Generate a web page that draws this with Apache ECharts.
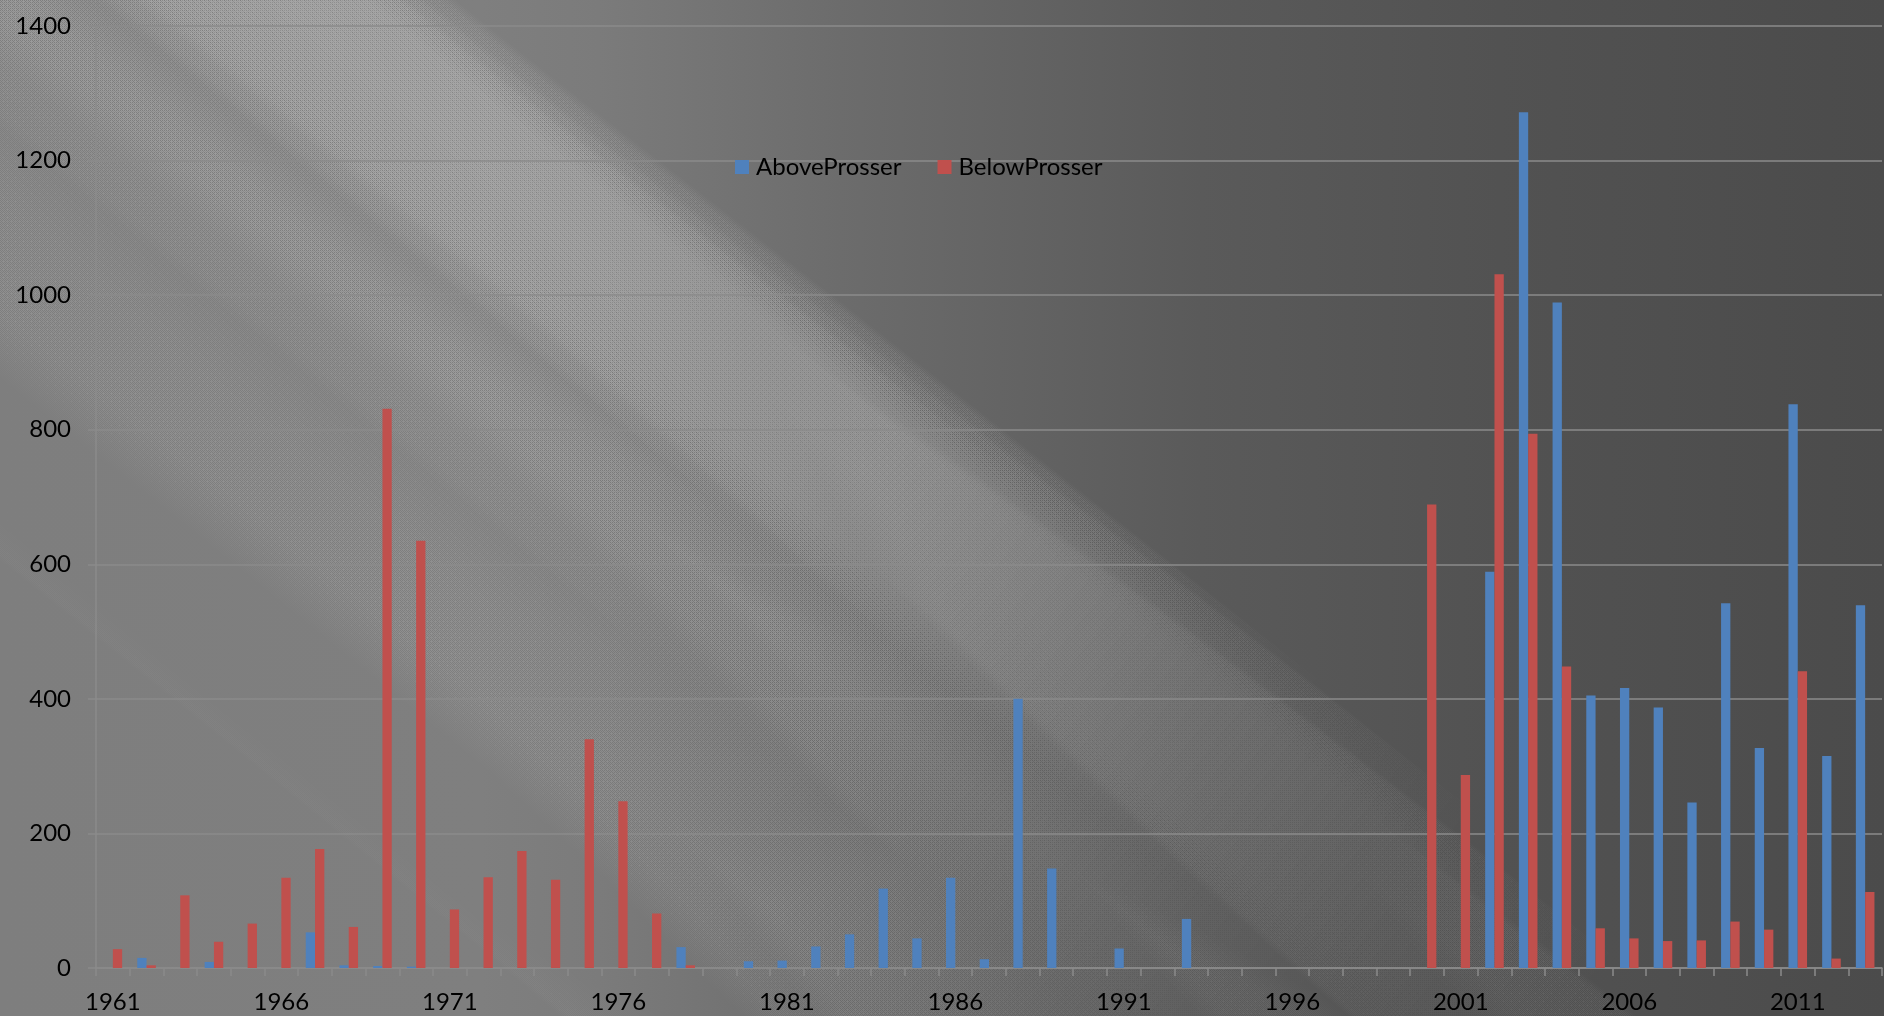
<!DOCTYPE html>
<html>
<head>
<meta charset="utf-8">
<script src="https://cdn.jsdelivr.net/npm/echarts@6/dist/echarts.min.js"></script>
<style>
html,body{margin:0;padding:0;width:100%;height:100%;overflow:hidden;background:#6a6a6a;}
#chart{width:1884px;height:1016px;}
</style>
</head>
<body>
<div id="chart"></div>
<script>
// ---------- data ----------
const years = ['1961','1962','1963','1964','1965','1966','1967','1968','1969','1970',
  '1971','1972','1973','1974','1975','1976','1977','1978','1979','1980',
  '1981','1982','1983','1984','1985','1986','1987','1988','1989','1990',
  '1991','1992','1993','1994','1995','1996','1997','1998','1999','2000',
  '2001','2002','2003','2004','2005','2006','2007','2008','2009','2010',
  '2011','2012','2013'];
const aboveProsser = [0,15,0,9,0,0,53,4,3,2,
  0,0,0,0,0,0,0,31,0,10,
  11,32,50,118,44,134,13,400,148,0,
  29,0,73,0,0,0,0,0,0,0,
  0,589,1272,989,405,416,387,246,542,327,
  838,315,539];
const belowProsser = [28,4,108,39,66,134,177,61,831,635,
  87,135,174,131,340,248,81,4,0,0,
  0,0,0,0,0,0,0,0,0,0,
  0,0,0,0,0,0,0,0,0,689,
  287,1031,794,448,59,44,40,41,69,57,
  441,14,113];
const seriesNames = ['AboveProsser','BelowProsser'];
const yMin = 0, yMax = 1400, yStep = 200;

// ---------- decorative background (diagonal light streaks) ----------
function P(t, s){ return [0.63*t + 0.777*s, -0.777*t + 0.63*s]; }
const profile = [[-950,0],[-650,0.02],[-520,0.08],[-430,0.18],[-330,0.16],[-220,0.21],[-100,0.19],
  [0,0.25],[60,0.22],[110,0.3],[180,0.33],[230,0.33],[270,0.22],[320,0.09],[380,0.03],[440,0]];
const fade = [[-400,1],[400,1],[700,0.95],[900,0.88],[1100,0.75],[1300,0.55],[1450,0.4],[1650,0.22],[1850,0.1],[2100,0],[2400,0]];
function interp(tab, v){
  for (let i=0;i<tab.length-1;i++){
    if (v>=tab[i][0] && v<=tab[i+1][0]){
      const f=(v-tab[i][0])/(tab[i+1][0]-tab[i][0]);
      return tab[i][1]+f*(tab[i+1][1]-tab[i][1]);
    }
  }
  return v<tab[0][0]?tab[0][1]:tab[tab.length-1][1];
}
const t0=-950, t1=440;
const gs = P(t0,0), ge = P(t1,0);
const stops = profile.map(p=>({offset:(p[0]-t0)/(t1-t0),
  color:'rgba(255,255,255,'+(-Math.log(1-p[1])).toFixed(4)+')'}));
const graphics = [];
const step = 20;
for (let sk=-50+step; sk<=2200; sk+=step){
  const op = interp(fade, sk-step) - interp(fade, sk);
  if (op<=0.0001) continue;
  graphics.push({
    type:'polygon', silent:true, z:-1,
    shape:{points:[P(t0,-60),P(t1,-60),P(t1,sk),P(t0,sk)]},
    style:{fill:new echarts.graphic.LinearGradient(gs[0],gs[1],ge[0],ge[1],stops,true), opacity:op}
  });
}

const font = 'Lato';
const gridColor = '#8b8b8b';
const chart = echarts.init(document.getElementById('chart'));
chart.setOption({
  animation:false,
  backgroundColor:{type:'linear',x:0,y:0,x2:1,y2:0,colorStops:[
    {offset:0,color:'#7e7e7e'},{offset:0.255,color:'#7f7f7f'},{offset:0.318,color:'#7b7b7b'},
    {offset:0.446,color:'#6c6c6c'},{offset:0.637,color:'#5a5a5a'},{offset:0.796,color:'#525252'},
    {offset:1,color:'#4b4b4b'}]},
  graphic: graphics,
  color:['#4f81bd','#c0504d'],
  grid:{left:96,right:2,top:26,bottom:48,containLabel:false},
  legend:{
    left:735, top:155, padding:0, itemWidth:14, itemHeight:14, itemGap:36, icon:'rect',
    textStyle:{fontFamily:font,fontSize:24,color:'#000',padding:[0,0,0,2]},
    data:seriesNames
  },
  xAxis:{
    type:'category', data:years, boundaryGap:true,
    axisLine:{show:true,lineStyle:{color:gridColor,width:1.5}},
    axisTick:{show:true,interval:0,length:8,lineStyle:{color:gridColor,width:1.5}},
    axisLabel:{interval:4,margin:22,fontFamily:font,fontSize:24,color:'#000'},
    splitLine:{show:false}
  },
  yAxis:{
    type:'value', min:yMin, max:yMax, interval:yStep,
    axisLine:{show:true,lineStyle:{color:gridColor,width:1.5}},
    axisTick:{show:true,length:8,lineStyle:{color:gridColor,width:1.5}},
    axisLabel:{margin:25,fontFamily:font,fontSize:24,color:'#000',formatter:v=>String(v)},
    splitLine:{show:true,lineStyle:{color:gridColor,width:1.5}}
  },
  series:[
    {name:seriesNames[0],type:'bar',data:aboveProsser,barWidth:9.3,barGap:'0%'},
    {name:seriesNames[1],type:'bar',data:belowProsser,barWidth:9.3,barGap:'0%'}
  ]
});
</script>
</body>
</html>
